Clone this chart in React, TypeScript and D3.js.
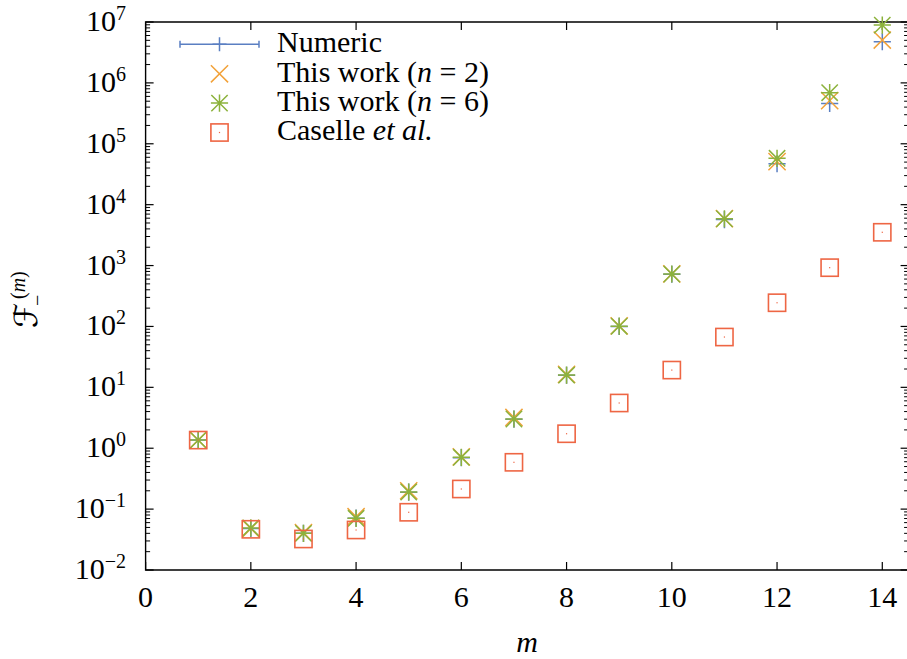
import React from "react";
import * as d3 from "d3";

const mValues = [1, 2, 3, 4, 5, 6, 7, 8, 9, 10, 11, 12, 13, 14];
const numeric = [1.36, 0.048, 0.04, 0.071, 0.19, 0.7, 3.0, 15.8, 100, 720, 5700, 47000, 4.6e5, 4.74e6];
const thisWorkN2 = [1.36, 0.048, 0.041, 0.075, 0.2, 0.72, 3.2, 16.3, 102, 730, 5900, 50800, 5.1e5, 5.06e6];
const thisWorkN6 = [1.36, 0.049, 0.04, 0.0706, 0.191, 0.71, 3.02, 15.9, 101, 726, 5870, 57700, 6.9e5, 8.9e6];
const caselle = [1.36, 0.0466, 0.0323, 0.0454, 0.0887, 0.214, 0.587, 1.73, 5.53, 19.2, 67, 245, 923, 3518];
const xTicks = [0, 2, 4, 6, 8, 10, 12, 14];
const yExponents = [-2, -1, 0, 1, 2, 3, 4, 5, 6, 7];
const legendLabels = ["Numeric", "This work (", "This work (", "Caselle "];

const W = 907;
const H = 659;
const FONT = "Liberation Serif, Times New Roman, Times, DejaVu Serif, serif";
const BLUE = "#5a7fc2";
const ORANGE = "#f2a23a";
const GREEN = "#8cb23c";
const RED = "#ee6644";

const x = d3.scaleLinear().domain([0, 14.5]).range([145.6, 908.6]);
const y = d3.scaleLog().domain([1e-2, 1e7]).range([570, 22]);

const plusPath = (cx: number, cy: number, r: number) =>
  `M${cx - r},${cy}H${cx + r}M${cx},${cy - r}V${cy + r}`;
const crossPath = (cx: number, cy: number, r: number) =>
  `M${cx - r},${cy - r}L${cx + r},${cy + r}M${cx - r},${cy + r}L${cx + r},${cy - r}`;

function Square({ cx, cy, r }: { cx: number; cy: number; r: number }) {
  return (
    <g>
      <rect x={cx - r} y={cy - r} width={2 * r} height={2 * r} fill="none" stroke={RED} strokeWidth={1.6} />
      <rect x={cx - 0.6} y={cy - 0.6} width={1.2} height={1.2} fill={RED} />
    </g>
  );
}

export default function App() {
  const [x0, x1] = x.range();
  const [yb, yt] = y.range();
  const minor: number[] = [];
  for (let e = -2; e < 7; e++) for (let k = 2; k <= 9; k++) minor.push(k * Math.pow(10, e));
  const r = 8.6;

  const legendY = [44.3, 73.8, 103.1, 132.5];
  const lx = 219.5;
  const tx = 277;
  const ts = { fontFamily: FONT } as React.CSSProperties;

  return (
    <svg width={W} height={H} style={{ position: "absolute", left: 0, top: 0, background: "#fff", fontFamily: FONT }}>
      <rect x={0} y={0} width={W} height={H} fill="#fff" />
      <path d={`M${x0},${yt}V${yb}H${x1}V${yt}Z`} fill="none" stroke="#000" strokeWidth={1.4} />
      {xTicks.map((t) => (
        <g key={"xt" + t}>
          <line x1={x(t)} x2={x(t)} y1={yb} y2={yb - 8} stroke="#000" strokeWidth={1.2} />
          <line x1={x(t)} x2={x(t)} y1={yt} y2={yt + 8} stroke="#000" strokeWidth={1.2} />
          <text x={x(t)} y={607} textAnchor="middle" fontSize={30} style={ts}>
            {t}
          </text>
        </g>
      ))}
      {yExponents.map((e) => {
        const yy = y(Math.pow(10, e));
        return (
          <g key={"yt" + e}>
            <line x1={x0} x2={x0 + 8} y1={yy} y2={yy} stroke="#000" strokeWidth={1.2} />
            <line x1={x1} x2={x1 - 8} y1={yy} y2={yy} stroke="#000" strokeWidth={1.2} />
            <text x={126} y={yy + 9} textAnchor="end" fontSize={30} style={ts}>
              10
              <tspan fontSize={20} dy={-11}>
                {e < 0 ? "\u2212" + Math.abs(e) : String(e)}
              </tspan>
            </text>
          </g>
        );
      })}
      {minor.map((v, i) => (
        <g key={"mn" + i}>
          <line x1={x0} x2={x0 + 4.5} y1={y(v)} y2={y(v)} stroke="#000" strokeWidth={1} />
          <line x1={x1} x2={x1 - 4.5} y1={y(v)} y2={y(v)} stroke="#000" strokeWidth={1} />
        </g>
      ))}
      <text x={x((x.domain()[0] + x.domain()[1]) / 2)} y={652} textAnchor="middle" fontSize={30} fontStyle="italic" style={ts}>
        m
      </text>
      <g transform="rotate(-90)">
        <text x={-328} y={37} fontSize={32} fontStyle="italic" style={{ fontFamily: "DejaVu Serif, DejaVu Sans, serif" }}>
          {"\u2131"}
        </text>
        <text x={-306} y={44} fontSize={20} style={ts}>
          {"\u2212"}
        </text>
        <text x={-299} y={25} fontSize={20} style={ts}>
          (<tspan fontStyle="italic">m</tspan>)
        </text>
      </g>
      <g fill="none" strokeWidth={1.5}>
        {mValues.map((m, i) => (
          <path key={"nb" + m} d={plusPath(x(m), y(numeric[i]), r)} stroke={BLUE} />
        ))}
        {mValues.map((m, i) => (
          <path key={"o" + m} d={crossPath(x(m), y(thisWorkN2[i]), r)} stroke={ORANGE} />
        ))}
        {mValues.map((m, i) => (
          <path
            key={"g" + m}
            d={plusPath(x(m), y(thisWorkN6[i]), r) + crossPath(x(m), y(thisWorkN6[i]), r * 0.95)}
            stroke={GREEN}
          />
        ))}
      </g>
      {mValues.map((m, i) => (
        <Square key={"s" + m} cx={x(m)} cy={y(caselle[i])} r={r} />
      ))}
      <g fill="none" strokeWidth={1.5}>
        <path d={`M180,${legendY[0]}H259M180,${legendY[0] - 3.5}V${legendY[0] + 3.5}M259,${legendY[0] - 3.5}V${legendY[0] + 3.5}`} stroke={BLUE} />
        <path d={plusPath(lx, legendY[0], 7)} stroke={BLUE} />
        <path d={crossPath(lx, legendY[1], r)} stroke={ORANGE} />
        <path d={plusPath(lx, legendY[2], r) + crossPath(lx, legendY[2], r * 0.95)} stroke={GREEN} />
      </g>
      <Square cx={lx} cy={legendY[3]} r={r} />
      <g fontSize={30} style={ts}>
        <text x={tx} y={51.5}>{legendLabels[0]}</text>
        <text x={tx} y={81.5}>
          {legendLabels[1]}<tspan fontStyle="italic">n</tspan> = 2)
        </text>
        <text x={tx} y={111}>
          {legendLabels[2]}<tspan fontStyle="italic">n</tspan> = 6)
        </text>
        <text x={tx} y={140}>
          {legendLabels[3]}<tspan fontStyle="italic">et al.</tspan>
        </text>
      </g>
    </svg>
  );
}
